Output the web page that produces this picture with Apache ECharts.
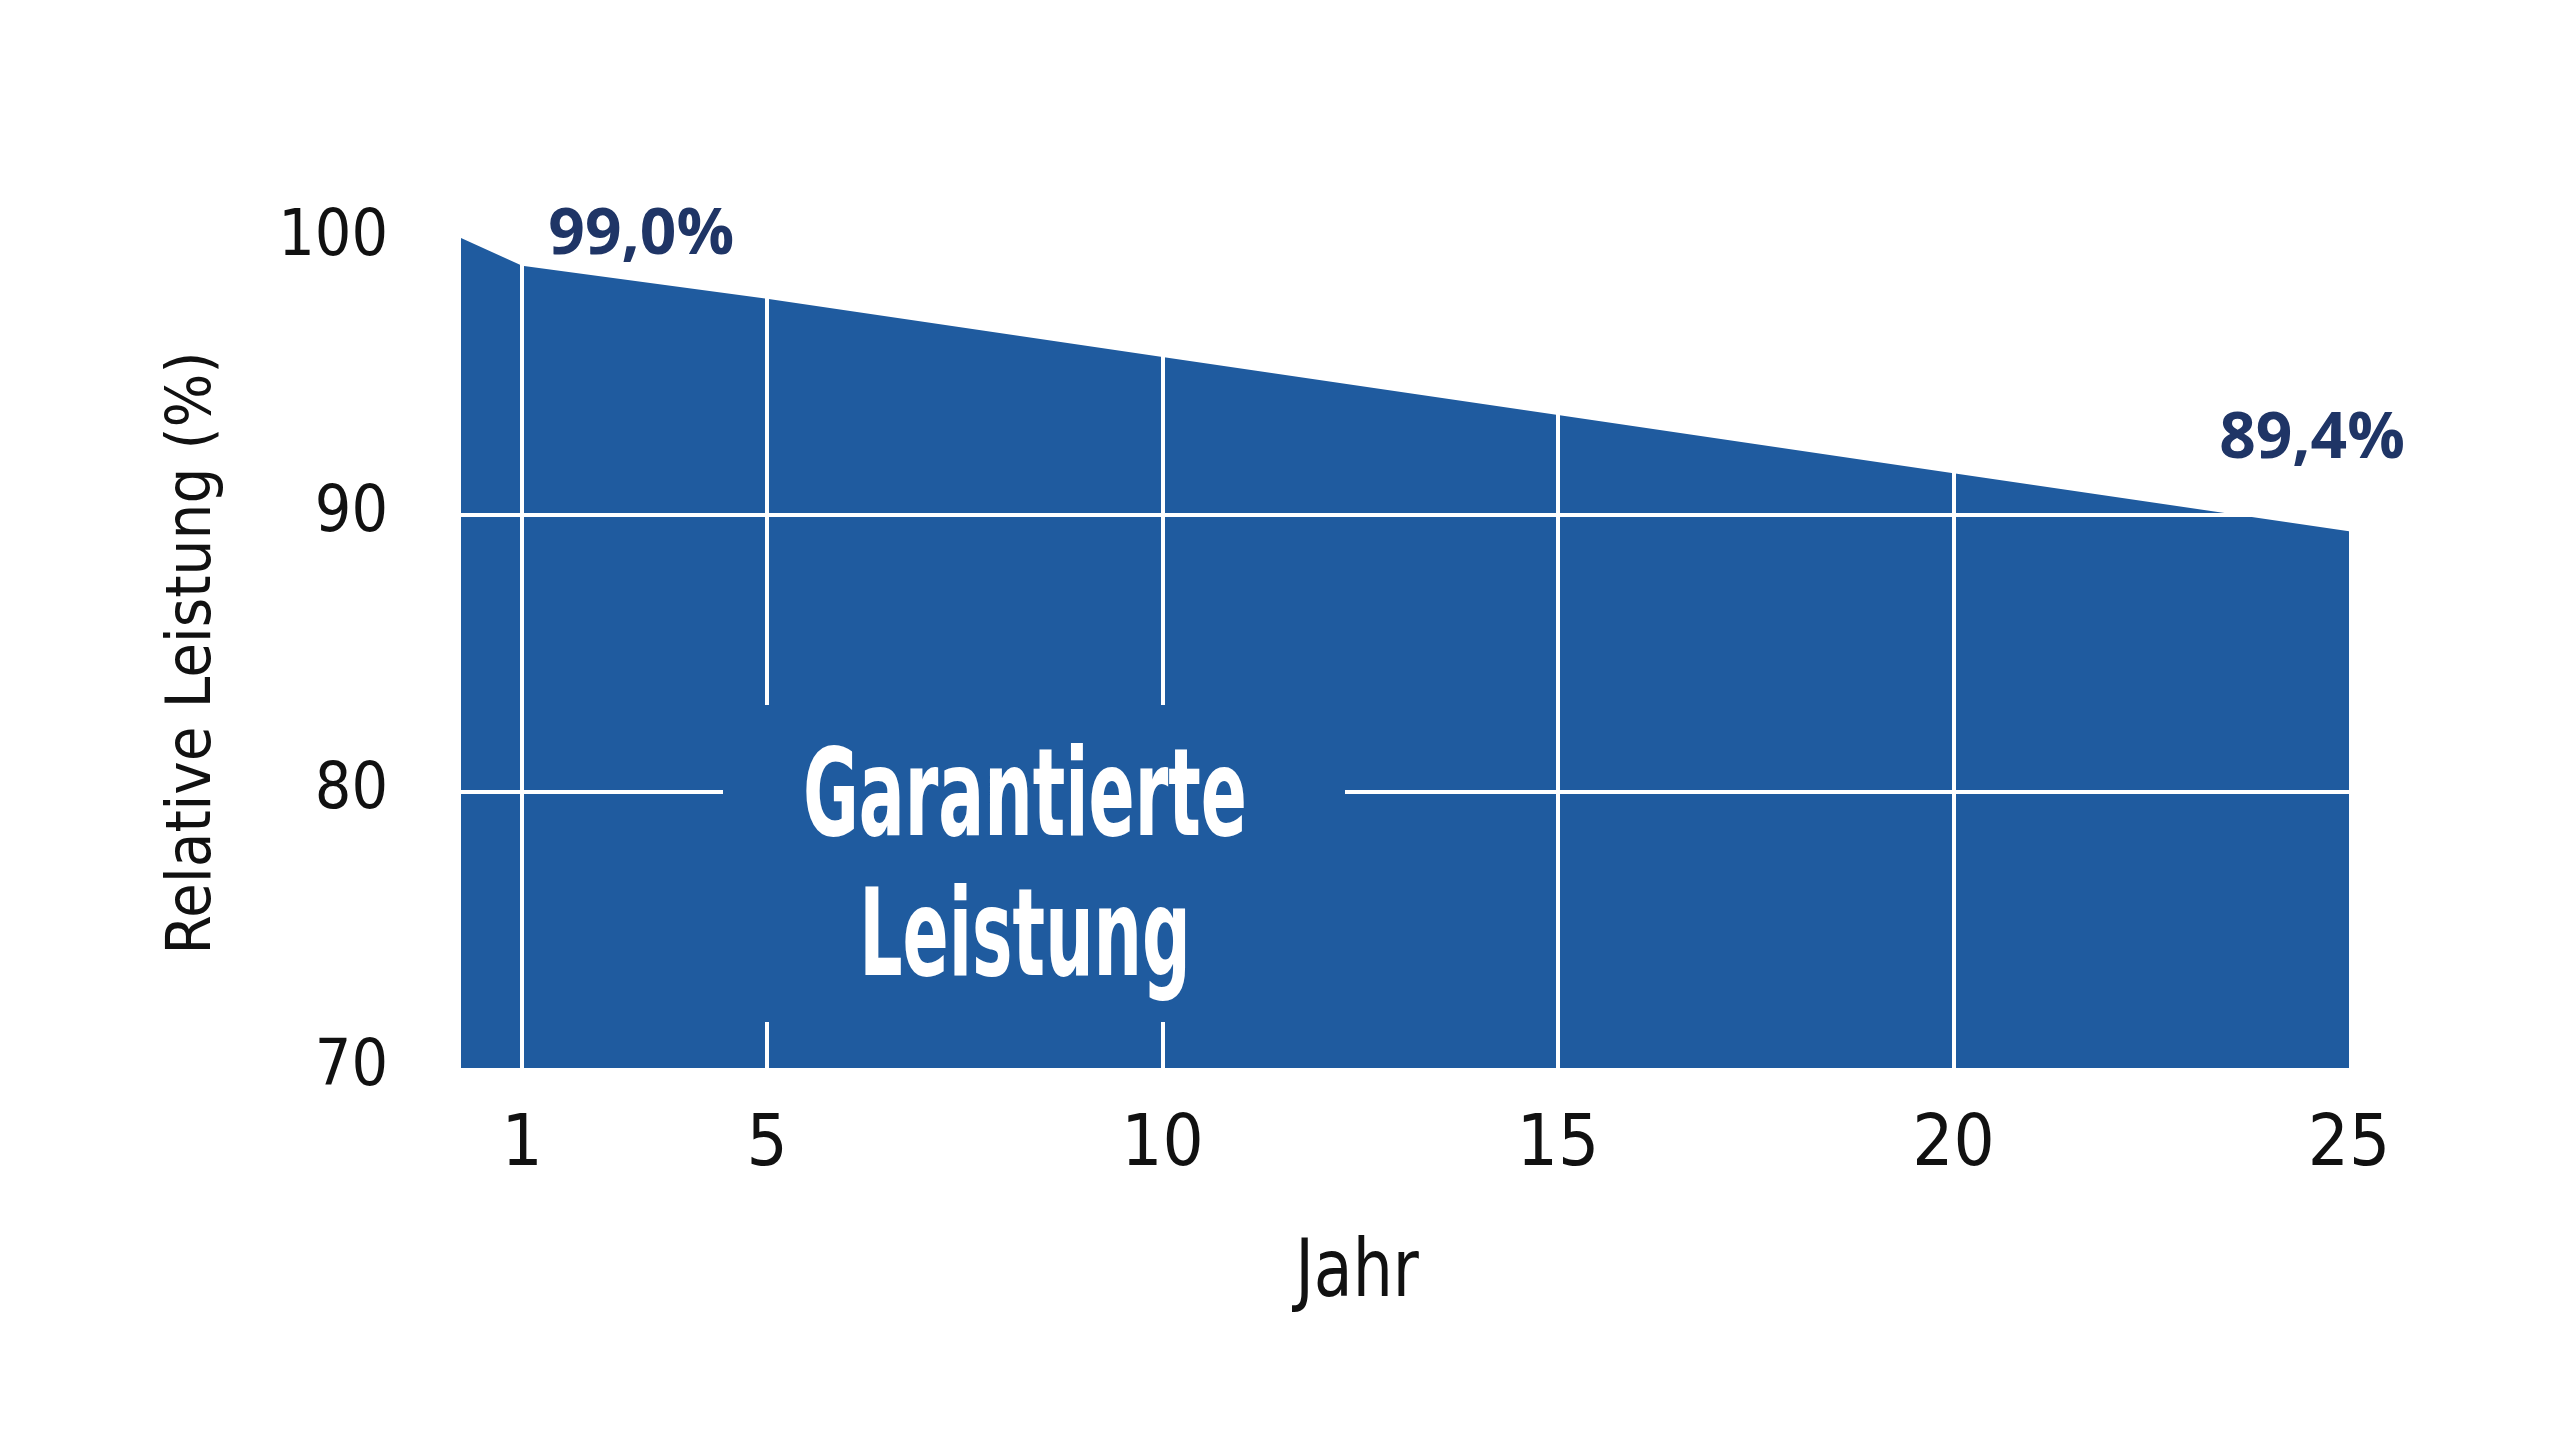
<!DOCTYPE html>
<html>
<head>
<meta charset="utf-8">
<script src="https://cdn.jsdelivr.net/npm/echarts@6/dist/echarts.min.js"></script>
<style>
  html, body { margin: 0; padding: 0; background: #ffffff; }
  #chart { width: 2560px; height: 1440px; }
</style>
</head>
<body>
<div id="chart"></div>
<script>
// ---- data ----
const years = [0, 1, 5, 10, 15, 20, 25];
const performance = [100, 99.0, 97.8, 95.7, 93.6, 91.5, 89.4];
const xTickLabels = [1, 5, 10, 15, 20, 25];
const verticalGridYears = [1, 5, 10, 15, 20];
const horizontalGridValues = [80, 90];
const labelledYears = [1, 25];
const yAxisTitle = 'Relative Leistung (%)';
const xAxisTitle = 'Jahr';
const annotation = 'Garantierte\nLeistung';

// ---- styles ----
const BLUE = '#1f5b9f';
const NAVY = '#1f3566';
const INK = '#111111';
const NARROW = '"Liberation Sans Narrow", "DejaVu Sans Condensed", "Roboto Condensed", "Arial Narrow", sans-serif';
const SPLIT = 5; // the reference draws years 0–5 and 5–25 at different spacings

const points = years.map((y, i) => [y, performance[i]]);
const ptsA = points.filter(p => p[0] <= SPLIT);
const ptsB = points.filter(p => p[0] >= SPLIT);
const fmt = v => v.toFixed(1).replace('.', ',') + '%';

function gridLines(xs) {
  return {
    silent: true,
    symbol: ['none', 'none'],
    label: { show: false },
    lineStyle: { color: '#ffffff', width: 4, type: 'solid', opacity: 1 },
    emphasis: { disabled: true },
    data: xs.map(x => ({ xAxis: x })).concat(horizontalGridValues.map(v => ({ yAxis: v })))
  };
}

function areaSeries(idx, data, vlines) {
  return {
    type: 'line',
    xAxisIndex: idx,
    yAxisIndex: idx,
    data: data,
    symbol: 'none',
    lineStyle: { width: 0 },
    areaStyle: { color: BLUE, opacity: 1, origin: 'start' },
    markLine: gridLines(vlines),
    z: 2
  };
}

const labelOffsets = { 1: [119, -30], 25: [-37, -92] };
function labelSeries(idx, yrs) {
  return {
    type: 'scatter',
    xAxisIndex: idx,
    yAxisIndex: idx,
    symbolSize: 1,
    itemStyle: { color: 'rgba(0,0,0,0)', opacity: 1 },
    z: 5,
    data: yrs.map(y => ({
      value: [y, performance[years.indexOf(y)]],
      label: { offset: labelOffsets[y] }
    })),
    label: {
      show: true,
      position: 'inside',
      formatter: p => fmt(p.value[1]),
      color: NAVY,
      opacity: 1,
      fontFamily: '"Open Sans", "Noto Sans", sans-serif',
      fontWeight: 'bold',
      fontSize: 64
    }
  };
}

const chart = echarts.init(document.getElementById('chart'), null, { renderer: 'canvas' });
chart.setOption({
  backgroundColor: '#ffffff',
  animation: false,
  grid: [
    { left: 461, top: 238, width: 306, height: 830, containLabel: false },
    { left: 767, top: 238, right: 211, height: 830, containLabel: false }
  ],
  xAxis: [
    {
      gridIndex: 0, type: 'value', min: 0, max: SPLIT, interval: 1,
      axisLine: { show: false }, axisTick: { show: false }, splitLine: { show: false },
      axisLabel: {
        formatter: v => (xTickLabels.includes(v) && v < SPLIT) ? String(v) : '',
        color: INK, fontFamily: NARROW, fontSize: 72, margin: 42
      }
    },
    {
      gridIndex: 1, type: 'value', min: SPLIT, max: 25, interval: 5,
      axisLine: { show: false }, axisTick: { show: false }, splitLine: { show: false },
      axisLabel: {
        formatter: v => xTickLabels.includes(v) ? String(v) : '',
        color: INK, fontFamily: NARROW, fontSize: 72, margin: 42,
        showMinLabel: true, showMaxLabel: true
      }
    }
  ],
  yAxis: [
    {
      gridIndex: 0, type: 'value', min: 70, max: 100, interval: 10,
      axisLine: { show: false }, axisTick: { show: false }, splitLine: { show: false },
      axisLabel: { color: INK, fontFamily: NARROW, fontSize: 64, margin: 73 },
      name: yAxisTitle, nameLocation: 'middle', nameRotate: 90, nameGap: 236,
      nameTextStyle: { color: INK, fontFamily: NARROW, fontSize: 63 }
    },
    {
      gridIndex: 1, type: 'value', min: 70, max: 100, interval: 10, show: false,
      splitLine: { show: false }
    }
  ],
  series: [
    areaSeries(0, ptsA, verticalGridYears.filter(y => y < SPLIT)),
    areaSeries(1, ptsB, verticalGridYears.filter(y => y >= SPLIT)),
    labelSeries(0, labelledYears.filter(y => y < SPLIT)),
    labelSeries(1, labelledYears.filter(y => y >= SPLIT))
  ],
  graphic: [
    {
      type: 'rect', z: 100,
      shape: { x: 723, y: 705, width: 622, height: 317 },
      style: { fill: BLUE }
    },
    {
      type: 'text', z: 101, x: 1025, y: 873, scaleX: 0.62,
      style: {
        text: annotation, x: 0, y: 0, align: 'center', verticalAlign: 'middle',
        fill: '#ffffff', fontFamily: NARROW, fontWeight: 'bold', fontSize: 122, lineHeight: 140
      }
    },
    {
      type: 'text', z: 101, x: 1357, y: 1275, scaleX: 0.88,
      style: {
        text: xAxisTitle, x: 0, y: 0, align: 'center', verticalAlign: 'middle',
        fill: INK, fontFamily: NARROW, fontSize: 80
      }
    }
  ]
});
</script>
</body>
</html>
